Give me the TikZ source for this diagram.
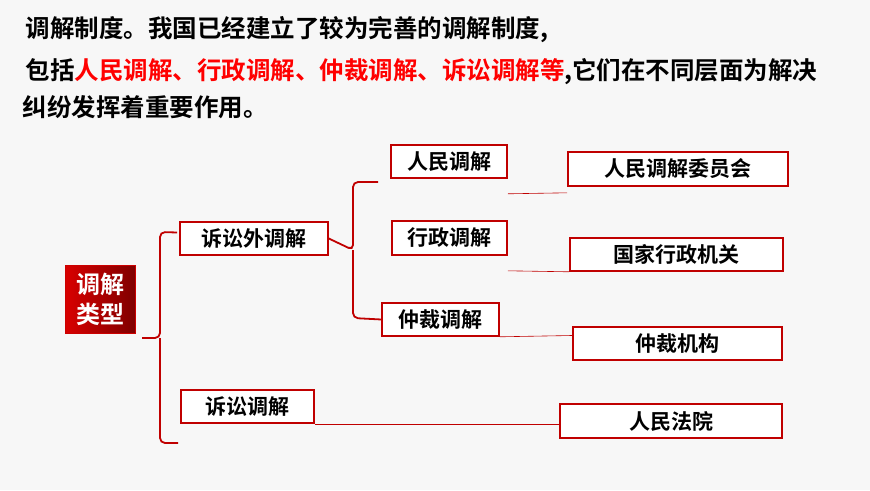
\documentclass[tikz,border=0pt]{standalone}
\usepackage{fontspec}
\newfontfamily\cjk{Noto Sans CJK SC Bold}
\definecolor{boxred}{RGB}{192,0,0}
\tikzset{
  item/.style={rectangle, draw=boxred, line width=1.6pt, fill=white, text=black, font=\cjk\fontsize{21}{23}\selectfont, inner sep=0pt},
  tie/.style={draw=boxred, line width=0.6pt},
  brace/.style={draw=boxred, line width=1.8pt, rounded corners=5pt}
}
\begin{document}
\begin{tikzpicture}[x=1pt,y=-1pt]
\fill[gray!6] (0,0) rectangle (870,490);
\useasboundingbox (0,0) rectangle (870,490);

% heading
\node (line1) at (22,30) [anchor=west, font=\cjk\fontsize{24.5}{27}\selectfont] {调解制度。我国已经建立了较为完善的调解制度,};
\node (line2) at (22,72) [anchor=west, font=\cjk\fontsize{24.5}{27}\selectfont] {\hspace{0pt}包括\textcolor{red}{人民调解、行政调解、仲裁调解、诉讼调解等},它们在不同层面为解决};
\node (line3) at (19,107) [anchor=west, font=\cjk\fontsize{24.5}{27}\selectfont] {纠纷发挥着重要作用。};

% boxes
\node (root) at (100,299) [rectangle, minimum width=70pt, minimum height=68pt, inner sep=0pt, left color=red!85!black, right color=red!50!black, draw=red!80!black, text=white, font=\cjk\fontsize{24}{30}\selectfont, align=center] {调解\\类型};
\node (outside) at (254,238.5) [item, minimum width=148pt, minimum height=33pt] {诉讼外调解};
\node (court) at (247.5,406.5) [item, minimum width=133pt, minimum height=33pt] {诉讼调解};
\node (people) at (449,161.5) [item, minimum width=116pt, minimum height=33pt] {人民调解};
\node (admin) at (449.5,238) [item, minimum width=115pt, minimum height=34pt] {行政调解};
\node (arbit) at (440.5,319.5) [item, minimum width=117pt, minimum height=33pt] {仲裁调解};
\node (committee) at (678,169) [item, minimum width=220pt, minimum height=34pt] {人民调解委员会};
\node (govt) at (676.5,254.5) [item, minimum width=213pt, minimum height=33pt] {国家行政机关};
\node (arbitorg) at (677.5,343.5) [item, minimum width=209pt, minimum height=33pt] {仲裁机构};
\node (courthouse) at (671,421) [item, minimum width=222pt, minimum height=34pt] {人民法院};

% ties
\draw[tie] ([yshift=-15pt]people.south east) -- ([yshift=-6pt]committee.south west);
\draw[tie] ([yshift=-15pt]admin.south east) -- (govt.south west);
\draw[tie] (arbit.south east) -- ([yshift=8pt]arbitorg.west);
\draw[tie] (court.south east) -- (courthouse.west |- court.south east);

% braces
\draw[brace] (outside.west) ++(-2,-6) -- (160,232) -- (160,338) -- (142,338);
\draw[brace] (160,338) -- (160,443) -- (178,443);
\draw[brace] (outside.east) -- (353,250) -- (353,182) -- (378,182);
\draw[brace] (353,250) -- (353,318) -- (arbit.west);
\end{tikzpicture}
\end{document}
